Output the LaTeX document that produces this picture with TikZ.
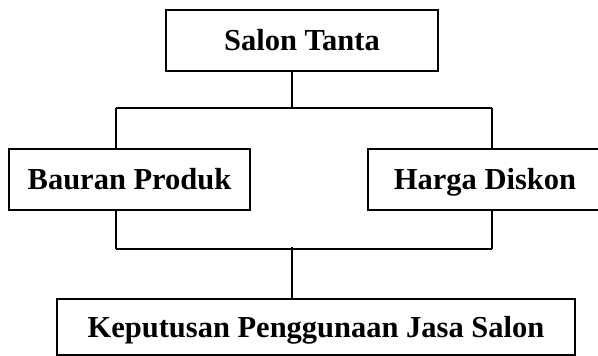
\documentclass[tikz,border=0pt]{standalone}
\usepackage{fontspec}
\setmainfont{Liberation Serif}
\begin{document}
\begin{tikzpicture}[x=1pt,y=-1pt,
    box/.style={draw=black,line width=1.5pt,inner sep=0pt,text height=20.2pt,text depth=0pt,
      font=\fontsize{30.5}{36}\selectfont\bfseries},
    link/.style={line width=1.3pt}]
    \useasboundingbox (0,0) rectangle (598,356);

    \node[box,minimum width=272pt,minimum height=61pt] (v1) at (302,40.5) {Salon Tanta};
    \node[box,minimum width=241pt,minimum height=61pt] (v2) at (129.5,179.5) {Bauran Produk};
    \node[box,minimum width=234pt,minimum height=61pt] (v3) at (485,179.5) {Harga Diskon};
    \node[box,minimum width=518pt,minimum height=56pt] (v4) at (316,327) {Keputusan Penggunaan Jasa Salon};

    \coordinate (j1) at (292,108);
    \coordinate (j2) at (292,247);
    \coordinate (l1) at (116,108);
    \coordinate (r1) at (492,108);
    \coordinate (l2) at (116,249);
    \coordinate (r2) at (492,249);

    \draw[link] (v1.south -| j1) -- (j1);
    \draw[link] (l1) -- (r1);
    \draw[link] (l1) -- (l1 |- v2.north);
    \draw[link] (r1) -- (r1 |- v3.north);
    \draw[link] (v2.south -| l2) -- (l2);
    \draw[link] (v3.south -| r2) -- (r2);
    \draw[line width=2.2pt] (l2) -- (r2);
    \draw[link] (j2) -- (v4.north -| j2);

  \end{tikzpicture}
\end{document}
